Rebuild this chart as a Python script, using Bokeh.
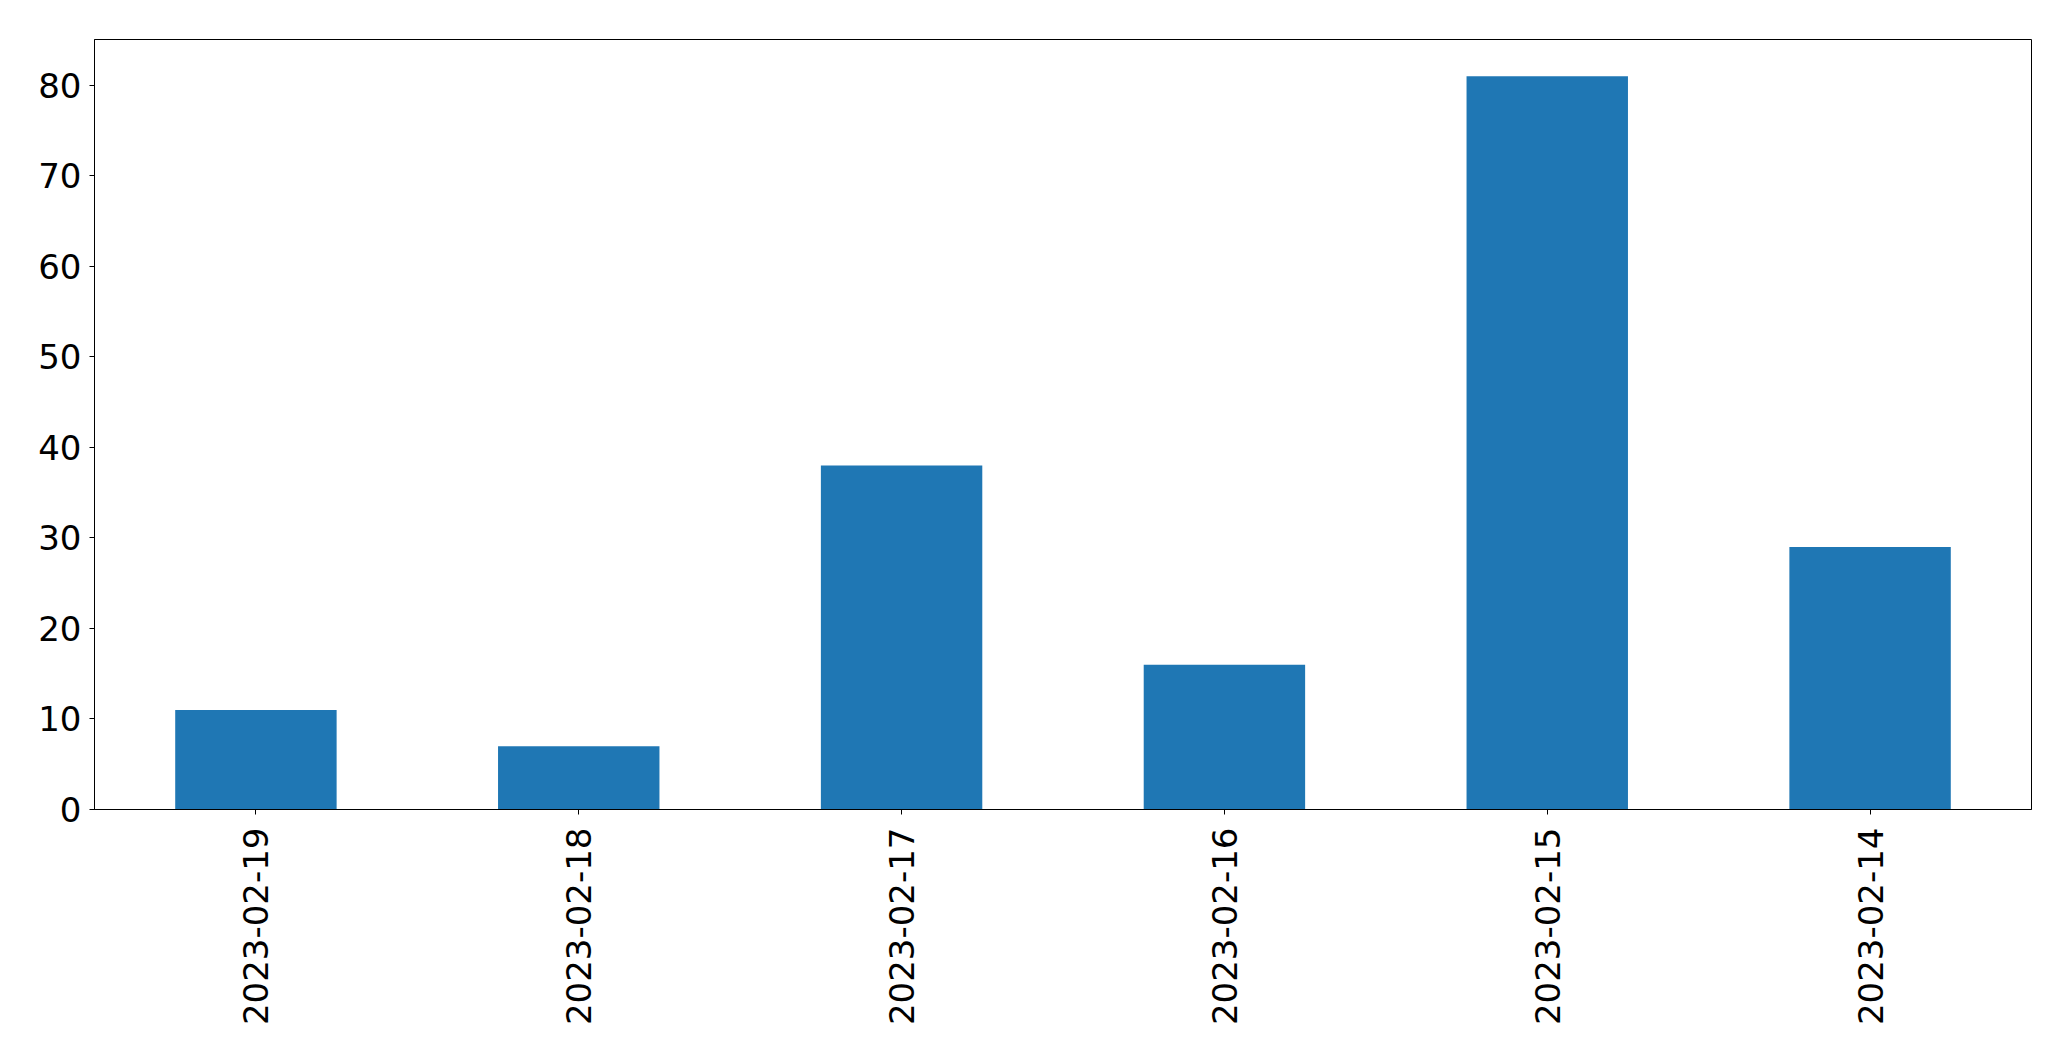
import math
from bokeh.plotting import figure
from bokeh.models import FactorRange, Range1d, FixedTicker, ColumnDataSource
from bokeh.embed import file_html
from bokeh.resources import INLINE

dates = ["2023-02-19", "2023-02-18", "2023-02-17", "2023-02-16", "2023-02-15", "2023-02-14"]
counts = [11, 7, 38, 16, 81, 29]
y_ticks = [0, 10, 20, 30, 40, 50, 60, 70, 80]

src = ColumnDataSource(data=dict(date=dates, count=counts))

p = figure(
    x_range=FactorRange(factors=dates, range_padding=0),
    y_range=Range1d(0, max(counts) * 1.05),
    width=2063, height=1053,
    output_backend="svg", toolbar_location=None,
    min_border_left=94, min_border_right=32, min_border_top=39, min_border_bottom=244,
)
p.vbar(x="date", top="count", width=0.5, source=src, fill_color="#1f77b4", line_color=None)

p.outline_line_color = "black"
p.outline_line_width = 1
p.xgrid.visible = False
p.ygrid.visible = False
p.background_fill_color = "white"
p.border_fill_color = "white"

for ax in (p.xaxis[0], p.yaxis[0]):
    ax.axis_line_color = "black"
    ax.major_tick_line_color = "black"
    ax.major_tick_in = 0
    ax.major_tick_out = 5
    ax.minor_tick_line_color = None
    ax.major_label_text_font = "DejaVu Sans"
    ax.major_label_text_font_size = "34px"
    ax.major_label_text_color = "black"

p.yaxis[0].major_label_standoff = 8
p.xaxis[0].major_label_standoff = 13
p.yaxis[0].ticker = FixedTicker(ticks=y_ticks)
p.xaxis[0].major_label_orientation = math.pi / 2

open("out.html", "w").write(file_html(p, INLINE))
